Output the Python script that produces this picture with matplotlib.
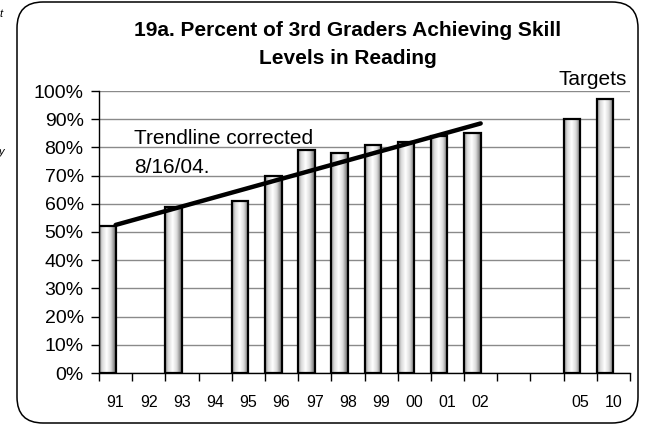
import numpy as np
import matplotlib
matplotlib.use("Agg")
import matplotlib.pyplot as plt
from matplotlib.patches import FancyBboxPatch, Rectangle

plt.rcParams['font.family'] = ['Liberation Sans', 'DejaVu Sans']

# data
years = ["91", "92", "93", "94", "95", "96", "97", "98", "99", "00", "01", "02", "", "", "05", "10"]
percent = [52, None, 59, None, 61, 70, 79, 78, 81, 82, 84, 85, None, None, 90, 97]
trend_years = ["91", "02"]
trend_vals = [52.5, 88.5]

W, H = 646, 425
fig = plt.figure(figsize=(W / 100, H / 100), dpi=100)

# background layer in pixel coords for the rounded frame
bg = fig.add_axes([0, 0, 1, 1])
bg.set_xlim(0, W)
bg.set_ylim(H, 0)
bg.axis("off")
bg.add_patch(FancyBboxPatch((17, 2), 621, 421, boxstyle="round,pad=0,rounding_size=26",
                            fc="white", ec="black", lw=1.1))
bg.text(-1, 14, "t", fontsize=8, style="italic", va="center", ha="left")
bg.text(-1, 152, "y", fontsize=8, style="italic", va="center", ha="left")

ax = fig.add_axes([99 / W, 1 - 373 / H, (630 - 99) / W, (373 - 91) / H])
ax.set_xlim(0, len(years))
ax.set_ylim(0, 100)

# cylinder-ish shading for bars
grad_pos = [0.0, 0.2, 0.45, 0.7, 1.0]
grad_col = [0.58, 0.86, 1.0, 0.86, 0.4]
xs = np.linspace(0, 1, 64)
shade = np.interp(xs, grad_pos, grad_col)
img = np.tile(shade, (2, 1))

for i, v in enumerate(percent):
    if v is None:
        continue
    rect = Rectangle((i, 0), 0.5, v, fc="none", ec="black", lw=1.6, zorder=3)
    ax.add_patch(rect)
    im = ax.imshow(img, cmap="gray", vmin=0, vmax=1, extent=(i, i + 0.5, 0, v),
                   aspect="auto", zorder=2, interpolation="bilinear")
    im.set_clip_path(rect)

ax.set_xlim(0, len(years))
ax.set_ylim(0, 100)

# trendline
tx = [years.index(y) + 0.5 for y in trend_years]
ax.plot(tx, trend_vals, color="black", lw=3.2, solid_capstyle="round", zorder=4)

ax.text(1.05, 83.0, "Trendline corrected", fontsize=15, va="center", ha="left")
ax.text(1.05, 73.0, "8/16/04.", fontsize=15, va="center", ha="left")
ax.text(15.9, 104, "Targets", fontsize=15, va="center", ha="right")

# grid + axes
ax.set_yticks(np.arange(0, 101, 10))
ax.set_yticklabels([f"{t}%" for t in range(0, 101, 10)], fontsize=14)
ax.yaxis.grid(True, color="#8a8a8a", lw=1)
ax.set_axisbelow(True)
ax.tick_params(axis="y", length=6, width=1, direction="out", pad=5)

ax.set_xticks(np.arange(0, len(years) + 1))
ax.set_xticklabels([])
ax.set_xticks(np.arange(len(years)) + 0.5, minor=True)
ax.set_xticklabels(years, minor=True, fontsize=11.5)
ax.tick_params(axis="x", which="major", length=6, width=1, direction="out")
ax.tick_params(axis="x", which="minor", length=0, pad=16)

for s in ["top", "right"]:
    ax.spines[s].set_visible(False)
ax.spines["left"].set_linewidth(1)
ax.spines["bottom"].set_linewidth(1)
ax.patch.set_alpha(0)

fig.text(348 / W, 1 - 31 / H, "19a. Percent of 3rd Graders Achieving Skill", fontsize=15,
         fontweight="bold", ha="center", va="center")
fig.text(348 / W, 1 - 58 / H, "Levels in Reading", fontsize=15,
         fontweight="bold", ha="center", va="center")

fig.savefig("out.png", dpi=100)
